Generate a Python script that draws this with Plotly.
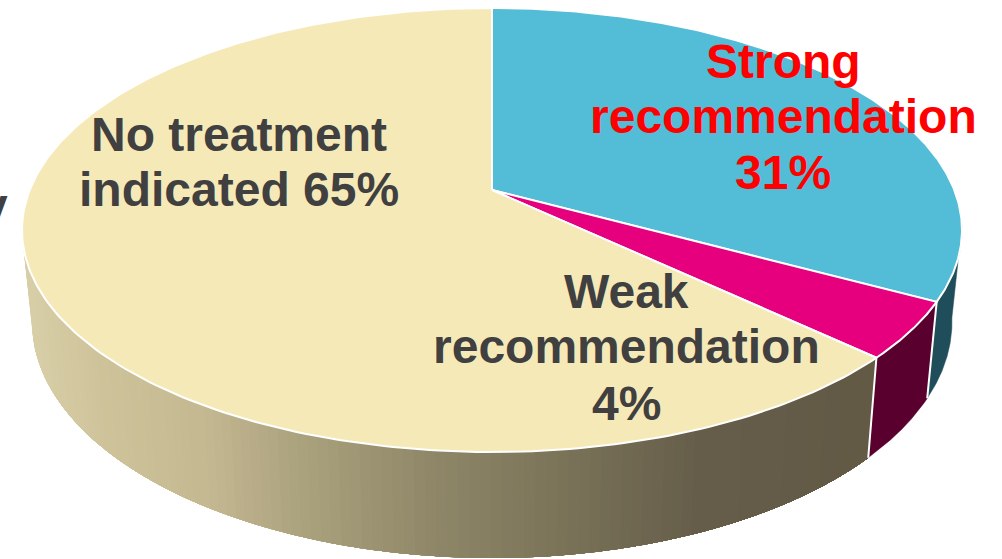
import numpy as np
import plotly.graph_objects as go

# Slices, clockwise from 12 o'clock: drawn shares
categories = ["Strong recommendation", "Weak recommendation", "No treatment indicated"]
drawn_share = [32.9, 4.1, 63.0]
top_colors = ["#53BCD6", "#E6007E", "#F6E9B8"]
side_colors = ["#1F4E5A", "#5A002E", None]
label_lines = [["Strong", "recommendation", "31%"],
               ["Weak", "recommendation", "4%"],
               ["No treatment", "indicated 65%"]]
label_colors = ["#FF0000", "#404040", "#404040"]
label_x = [783, 626, 239]
label_y = [[61, 116, 172], [291, 346, 403], [134, 189]]

grad_x = [25, 100, 200, 300, 433, 567, 700, 870]
grad_rgb = [(216, 207, 168), (207, 195, 154), (197, 185, 146), (171, 162, 126),
            (143, 135, 104), (122, 115, 88), (102, 94, 75), (98, 90, 69)]

# Pie geometry (tilted disc in perspective)
CX, APEX_Y, TOP, BOTTOM = 492.0, 190.0, 8.0, 452.0
c = -80 / 444
a = APEX_Y - TOP + TOP * c
d = 470 * np.sqrt(1 - c * c)


def rim(theta):
    u, v = np.sin(theta), -np.cos(theta)
    w = 1 + c * v
    return CX + d * u / w, (a * v + APEX_Y) / w


def base(x, y):
    return CX + (x - CX) * 460 / 470, 322 + (y - 230) * 236 / 222


def grad_color(x):
    return "rgb(%d,%d,%d)" % tuple(np.interp(x, grad_x, [p[i] for p in grad_rgb]) for i in range(3))


fig = go.Figure()
edges = np.radians(np.cumsum([0] + drawn_share) * 3.6)


def poly(xs, ys, fill, line, width):
    fig.add_trace(go.Scatter(x=xs, y=ys, mode="lines", fill="toself", fillcolor=fill,
                             line=dict(color=line, width=width), hoverinfo="skip", showlegend=False))


# Side wall: solid panels on the right, gradient bands overlapping on the front
for i in range(3):
    th = np.linspace(edges[i], edges[i + 1], 601)
    xs, ys = rim(th)
    keep = ys >= 225
    xs, ys = xs[keep], ys[keep]
    bx, by = base(xs, ys)
    if side_colors[i]:
        poly(np.r_[xs, bx[::-1], xs[0]], np.r_[ys, by[::-1], ys[0]], side_colors[i], side_colors[i], 0.5)
    else:
        # paint from the far left towards the right, each band reaching the panel seam
        order = np.arange(len(xs) - 1, -1, -3)
        if order[-1] != 0:
            order = np.r_[order, 0]
        for j0, j1 in zip(order[:-1], order[1:]):
            col = grad_color((xs[j0] + xs[j1]) / 2)
            poly(np.r_[xs[:j0 + 1], bx[:j0 + 1][::-1], xs[0]], np.r_[ys[:j0 + 1], by[:j0 + 1][::-1], ys[0]],
                 col, col, 0)

# White seams on the wall
for e in edges[1:3]:
    x0, y0 = rim(e)
    bx, by = base(x0, y0)
    fig.add_trace(go.Scatter(x=[x0, bx], y=[y0, by], mode="lines", line=dict(color="white", width=2),
                             hoverinfo="skip", showlegend=False))

# Top face
for i in range(3):
    th = np.linspace(edges[i], edges[i + 1], 240)
    xs, ys = rim(th)
    poly(np.r_[CX, xs, CX], np.r_[APEX_Y, ys, APEX_Y], top_colors[i], "white", 2)

ann = []
for lines, col, lx, lys in zip(label_lines, label_colors, label_x, label_y):
    for t, ly in zip(lines, lys):
        ann.append(dict(x=lx, y=ly, text=t, showarrow=False, xanchor="center", yanchor="middle",
                        font=dict(family="Liberation Sans", size=48, color=col, weight="bold")))
# Clipped letter from the slide's text at the left edge
ann.append(dict(x=10, y=205, text="y", showarrow=False, xanchor="right", yanchor="middle",
                font=dict(family="Liberation Sans", size=48, color="#404040", weight="bold")))

fig.update_layout(width=1002, height=559, margin=dict(l=0, r=0, t=0, b=0),
                  paper_bgcolor="white", plot_bgcolor="white", annotations=ann, showlegend=False,
                  xaxis=dict(range=[0, 1002], visible=False, fixedrange=True),
                  yaxis=dict(range=[559, 0], visible=False, fixedrange=True))
fig.write_html("out.html", post_script="document.body.style.margin='0';document.body.style.overflow='hidden';",
               config={"displayModeBar": False})
